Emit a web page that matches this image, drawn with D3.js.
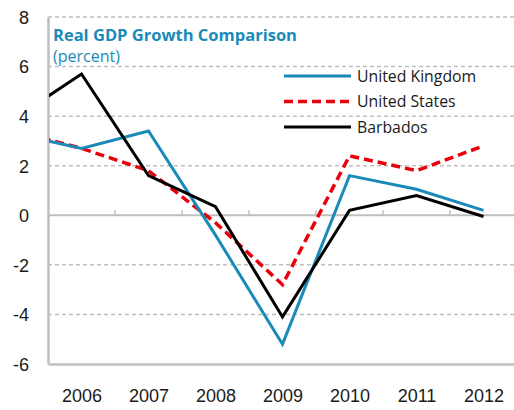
<!DOCTYPE html>
<html>
<head>
<meta charset="utf-8">
<script src="https://cdn.jsdelivr.net/npm/d3@7"></script>
<style>
  body { margin: 0; background: #fff; }
  svg { display: block; font-family: "Open Sans", "Noto Sans", sans-serif; }
</style>
</head>
<body>
<svg id="chart"></svg>
<script>
// years on the axis, plus 2005 which sits off the left edge and gets clipped
const years = [2005, 2006, 2007, 2008, 2009, 2010, 2011, 2012];
const tickYears = [2006, 2007, 2008, 2009, 2010, 2011, 2012];
const yTicks = [-6, -4, -2, 0, 2, 4, 6, 8];

const ukValues = [3.3, 2.7, 3.4, -0.8, -5.2, 1.6, 1.05, 0.2];
const usValues = [3.4, 2.7, 1.8, -0.3, -2.8, 2.4, 1.8, 2.8];
const barbadosValues = [3.9, 5.7, 1.6, 0.35, -4.1, 0.2, 0.8, -0.05];

const seriesNames = ["United Kingdom", "United States", "Barbados"];

const width = 514;
const height = 410;

const svg = d3.select("#chart")
  .attr("width", width)
  .attr("height", height);

const plotLeft = 48, plotRight = 517, plotTop = 17, plotBottom = 364;

const x = d3.scaleLinear()
  .domain([2005.5, 2012.5])
  .range([plotLeft, plotRight]);

const y = d3.scaleLinear()
  .domain([-6, 8])
  .range([plotBottom, plotTop]);

const grey = "#bfbfbf";

// dashed gridlines
svg.append("g")
  .selectAll("line")
  .data(yTicks.filter(d => d !== 0 && d !== -6))
  .enter()
  .append("line")
  .attr("x1", plotLeft)
  .attr("x2", plotRight)
  .attr("y1", d => y(d))
  .attr("y2", d => y(d))
  .attr("stroke", grey)
  .attr("stroke-width", 1.5)
  .attr("stroke-dasharray", "4,3");

// zero line with small ticks between years
svg.append("line")
  .attr("x1", plotLeft).attr("x2", plotRight)
  .attr("y1", y(0)).attr("y2", y(0))
  .attr("stroke", grey).attr("stroke-width", 2);

svg.append("g")
  .selectAll("line")
  .data(tickYears.slice(1))
  .enter()
  .append("line")
  .attr("x1", d => x(d - 0.5))
  .attr("x2", d => x(d - 0.5))
  .attr("y1", y(0))
  .attr("y2", y(0) - 5)
  .attr("stroke", grey)
  .attr("stroke-width", 1.5);

// left and bottom axes (plain hyphen for negatives, like the original)
const yAxis = svg.append("g")
  .attr("transform", `translate(${plotLeft},0)`)
  .call(d3.axisLeft(y).tickValues(yTicks).tickSize(0).tickPadding(19).tickFormat(d => String(d)));
yAxis.select(".domain").attr("stroke", grey).attr("stroke-width", 2.5);
yAxis.selectAll("text")
  .attr("font-size", 18)
  .attr("fill", "#1a1a1a")
  .attr("dy", "0.35em");

const xAxis = svg.append("g")
  .attr("transform", `translate(0,${plotBottom})`)
  .call(d3.axisBottom(x).tickValues(tickYears).tickSize(0).tickPadding(25).tickFormat(d => String(d)));
xAxis.select(".domain").attr("stroke", grey).attr("stroke-width", 2.5);
xAxis.selectAll("text")
  .attr("font-size", 18)
  .attr("fill", "#1a1a1a");

// clip for lines
svg.append("clipPath")
  .attr("id", "plot-clip")
  .append("rect")
  .attr("x", plotLeft + 1)
  .attr("y", plotTop)
  .attr("width", plotRight - plotLeft)
  .attr("height", plotBottom - plotTop);

const line = d3.line()
  .x((d, i) => x(years[i]))
  .y(d => y(d));

const plot = svg.append("g").attr("clip-path", "url(#plot-clip)");

const styles = [
  { color: "#1a8bb8", width: 3, dash: null },
  { color: "#e8000b", width: 3.5, dash: "9,5" },
  { color: "#000000", width: 3, dash: null }
];
const allValues = [ukValues, usValues, barbadosValues];

// red goes underneath, then UK, then Barbados
[1, 0, 2].forEach(i => {
  plot.append("path")
    .datum(allValues[i])
    .attr("d", line)
    .attr("fill", "none")
    .attr("stroke", styles[i].color)
    .attr("stroke-width", styles[i].width)
    .attr("stroke-dasharray", styles[i].dash)
    .attr("stroke-linejoin", "miter");
});

// title
svg.append("text")
  .attr("x", 53)
  .attr("y", 41)
  .attr("font-size", 16.5)
  .attr("font-weight", "bold")
  .attr("fill", "#1a8bb8")
  .text("Real GDP Growth Comparison");

svg.append("text")
  .attr("x", 53)
  .attr("y", 62)
  .attr("font-size", 16)
  .attr("fill", "#1a8bb8")
  .text("(percent)");

// legend
const legend = svg.append("g");
seriesNames.forEach((name, i) => {
  const ly = 76 + i * 25.5;
  legend.append("line")
    .attr("x1", 284).attr("x2", 351)
    .attr("y1", ly).attr("y2", ly)
    .attr("stroke", styles[i].color)
    .attr("stroke-width", styles[i].width)
    .attr("stroke-dasharray", styles[i].dash);
  legend.append("text")
    .attr("x", 357)
    .attr("y", ly)
    .attr("dy", "0.35em")
    .attr("font-size", 15.8)
    .attr("fill", "#1a1a1a")
    .text(name);
});
</script>
</body>
</html>
